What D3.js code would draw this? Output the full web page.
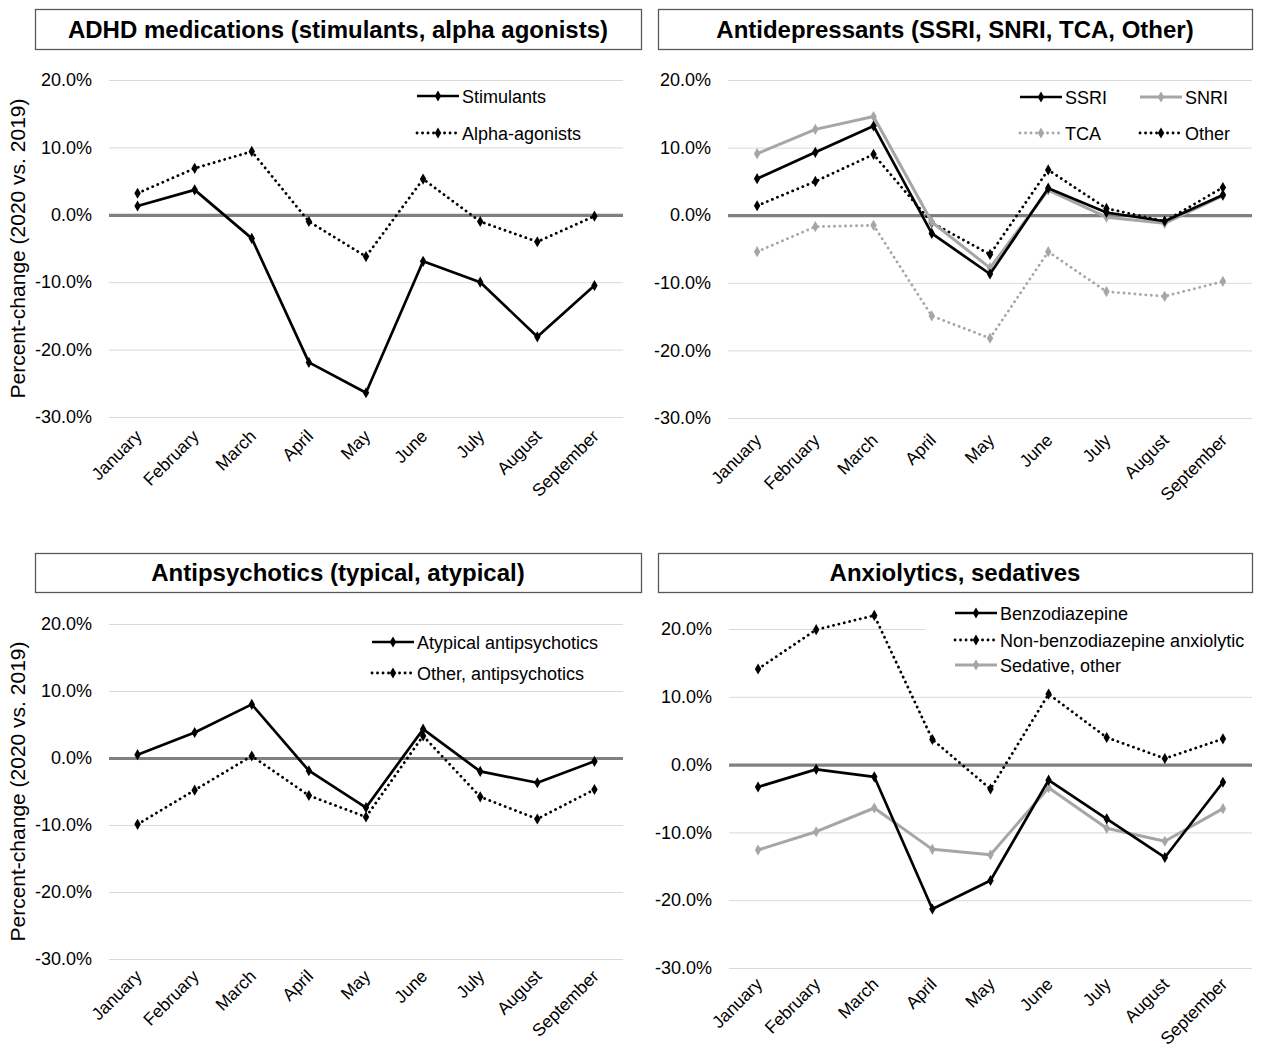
<!DOCTYPE html>
<html>
<head>
<meta charset="utf-8">
<script src="https://cdn.jsdelivr.net/npm/d3@7"></script>
<style>
  html, body { margin: 0; padding: 0; background: #fff; }
  svg { display: block; font-family: "Liberation Sans", Arial, sans-serif; }
</style>
</head>
<body>
<svg id="chart" width="1263" height="1049"></svg>
<script>
// ---------- data ----------
const months = ["January","February","March","April","May","June","July","August","September"];
const yTicks = [20, 10, 0, -10, -20, -30];

const stimulants    = [1.3, 3.7, -3.5, -21.9, -26.4, -6.9, -10.0, -18.1, -10.5];
const alphaAgonists = [3.2, 6.9, 9.4, -1.0, -6.2, 5.3, -1.0, -4.0, -0.2];

const ssri    = [5.4, 9.3, 13.2, -2.7, -8.7, 4.0, 0.4, -0.9, 3.0];
const snri    = [9.1, 12.7, 14.6, -1.0, -7.8, 3.7, -0.3, -1.2, 2.9];
const tca     = [-5.4, -1.7, -1.5, -14.9, -18.2, -5.4, -11.3, -12.0, -9.8];
const otherAD = [1.4, 5.0, 9.0, -1.1, -5.8, 6.7, 1.0, -0.9, 4.1];

const atypicalAP = [0.5, 3.8, 8.0, -1.9, -7.4, 4.3, -2.0, -3.7, -0.5];
const otherAP    = [-9.9, -4.8, 0.3, -5.6, -8.8, 3.3, -5.8, -9.1, -4.7];

const benzo    = [-3.3, -0.7, -1.8, -21.3, -17.1, -2.3, -8.0, -13.7, -2.6];
const nonBenzo = [14.1, 19.9, 22.0, 3.7, -3.6, 10.4, 4.0, 0.9, 3.8];
const sedative = [-12.6, -9.9, -6.4, -12.5, -13.3, -3.4, -9.4, -11.3, -6.5];

const panelTitles = [
  "ADHD medications (stimulants, alpha agonists)",
  "Antidepressants (SSRI, SNRI, TCA, Other)",
  "Antipsychotics (typical, atypical)",
  "Anxiolytics, sedatives"
];

// ---------- styles ----------
const STY = {
  blackSolid: { color: "#000", width: 2.7, dash: null },
  blackDot:   { color: "#000", width: 2.8, dash: "0.1,5.4" },
  graySolid:  { color: "#a6a6a6", width: 3, dash: null },
  grayDot:    { color: "#a6a6a6", width: 2.8, dash: "0.1,5.4" }
};

const FS = { title: 24, tick: 18, legend: 18, xlab: 17.5, ylab: 21 };

const panels = [
  { title: panelTitles[0], box: [35, 9, 641, 49], x0: 109, x1: 623, yTop: 80, yBot: 417, yLabel: true, xlabY: 433,
    series: [
      { name: "Stimulants", values: stimulants, sty: STY.blackSolid, lx: 417, ly: 96 },
      { name: "Alpha-agonists", values: alphaAgonists, sty: STY.blackDot, lx: 417, ly: 133 }
    ], legendBg: null },
  { title: panelTitles[1], box: [658, 9, 1252, 49], x0: 728, x1: 1252, yTop: 80, yBot: 418, yLabel: false, xlabY: 437,
    series: [
      { name: "SSRI", values: ssri, sty: STY.blackSolid, lx: 1020, ly: 97 },
      { name: "SNRI", values: snri, sty: STY.graySolid, lx: 1140, ly: 97 },
      { name: "TCA", values: tca, sty: STY.grayDot, lx: 1020, ly: 133 },
      { name: "Other", values: otherAD, sty: STY.blackDot, lx: 1140, ly: 133 }
    ], drawOrder: [2, 3, 1, 0], legendBg: null },
  { title: panelTitles[2], box: [35, 553, 641, 592], x0: 109, x1: 623, yTop: 624, yBot: 959, yLabel: true, xlabY: 973,
    series: [
      { name: "Atypical antipsychotics", values: atypicalAP, sty: STY.blackSolid, lx: 372, ly: 642 },
      { name: "Other, antipsychotics", values: otherAP, sty: STY.blackDot, lx: 372, ly: 673 }
    ], legendBg: null },
  { title: panelTitles[3], box: [658, 553, 1252, 592], x0: 729, x1: 1252, yTop: 629, yBot: 968, yLabel: false, xlabY: 981,
    series: [
      { name: "Benzodiazepine", values: benzo, sty: STY.blackSolid, lx: 955, ly: 613 },
      { name: "Non-benzodiazepine anxiolytic", values: nonBenzo, sty: STY.blackDot, lx: 955, ly: 640 },
      { name: "Sedative, other", values: sedative, sty: STY.graySolid, lx: 955, ly: 665 }
    ], drawOrder: [2, 0, 1], legendBg: [925, 600, 1256, 678] }
];

const svg = d3.select("#chart");
const diamond = d3.symbol().type(d3.symbolDiamond).size(36);
const pctFmt = d => (d < 0 ? "-" : "") + Math.abs(d).toFixed(1) + "%";

panels.forEach((p, pi) => {
  const g = svg.append("g");
  const x = d3.scaleBand().domain(months).range([p.x0, p.x1]).padding(0);
  const y = d3.scaleLinear().domain([-30, 20]).range([p.yBot, p.yTop]);

  // title box
  g.append("rect")
    .attr("x", p.box[0] + 0.5).attr("y", p.box[1] + 0.5)
    .attr("width", p.box[2] - p.box[0]).attr("height", p.box[3] - p.box[1])
    .attr("fill", "#fff").attr("stroke", "#595959").attr("stroke-width", 1.3);
  g.append("text")
    .attr("x", (p.box[0] + p.box[2]) / 2).attr("y", (p.box[1] + p.box[3]) / 2 + 8.5)
    .attr("text-anchor", "middle").style("font-size", FS.title + "px").attr("font-weight", "bold")
    .attr("fill", "#000").text(p.title);

  // gridlines + y tick labels
  const yAxis = d3.axisLeft(y).tickValues(yTicks).tickSize(-(p.x1 - p.x0)).tickPadding(17)
    .tickFormat(pctFmt);
  const ya = g.append("g").attr("transform", `translate(${p.x0},0)`).call(yAxis);
  ya.select(".domain").remove();
  ya.selectAll(".tick line").attr("stroke", "#d9d9d9").attr("stroke-width", 1);
  ya.selectAll(".tick text").style("font-size", FS.tick + "px").attr("fill", "#000")
    .style("font-family", "'Liberation Sans', Arial, sans-serif");
  ya.selectAll(".tick").filter(d => d === 0).select("line").attr("stroke", "#808080").attr("stroke-width", 3.2);

  // legend background (covers gridlines)
  if (p.legendBg) {
    g.append("rect").attr("x", p.legendBg[0]).attr("y", p.legendBg[1])
      .attr("width", p.legendBg[2] - p.legendBg[0]).attr("height", p.legendBg[3] - p.legendBg[1])
      .attr("fill", "#fff");
  }

  // x labels
  const xa = g.append("g").attr("transform", `translate(0,${p.xlabY})`)
    .call(d3.axisBottom(x).tickSize(0).tickPadding(0));
  xa.select(".domain").remove();
  xa.selectAll(".tick text")
    .style("font-size", FS.xlab + "px").attr("fill", "#000")
    .style("font-family", "'Liberation Sans', Arial, sans-serif")
    .attr("text-anchor", "end")
    .attr("dy", "0.35em")
    .attr("transform", "translate(1,0) rotate(-45)");

  // y label
  if (p.yLabel) {
    g.append("text")
      .attr("transform", `translate(25,${(p.yTop + p.yBot) / 2}) rotate(-90)`)
      .attr("text-anchor", "middle").style("font-size", FS.ylab + "px").attr("fill", "#000")
      .text("Percent-change (2020 vs. 2019)");
  }

  // lines
  const line = d3.line().x((d, i) => x(months[i]) + x.bandwidth() / 2).y(d => y(d));
  const order = p.drawOrder || p.series.map((s, i) => i).reverse();
  order.forEach(si => {
    const s = p.series[si];
    const sg = g.append("g");
    sg.append("path").datum(s.values).attr("d", line)
      .attr("fill", "none").attr("stroke", s.sty.color).attr("stroke-width", s.sty.width)
      .attr("stroke-linejoin", "round")
      .attr("stroke-linecap", s.sty.dash ? "round" : "butt")
      .attr("stroke-dasharray", s.sty.dash);
    sg.selectAll("path.pt").data(s.values).join("path").attr("class", "pt")
      .attr("d", diamond)
      .attr("transform", (d, i) => `translate(${x(months[i]) + x.bandwidth() / 2},${y(d)})`)
      .attr("fill", s.sty.color);
  });

  // legend
  p.series.forEach(s => {
    const lg = g.append("g");
    lg.append("line").attr("x1", s.lx).attr("x2", s.lx + 42).attr("y1", s.ly).attr("y2", s.ly)
      .attr("stroke", s.sty.color).attr("stroke-width", s.sty.width)
      .attr("stroke-linecap", s.sty.dash ? "round" : "butt")
      .attr("stroke-dasharray", s.sty.dash);
    lg.append("path").attr("d", diamond).attr("transform", `translate(${s.lx + 21},${s.ly})`)
      .attr("fill", s.sty.color);
    lg.append("text").attr("x", s.lx + 45).attr("y", s.ly + 6.5)
      .style("font-size", FS.legend + "px").attr("fill", "#000").text(s.name);
  });
});
</script>
</body>
</html>
